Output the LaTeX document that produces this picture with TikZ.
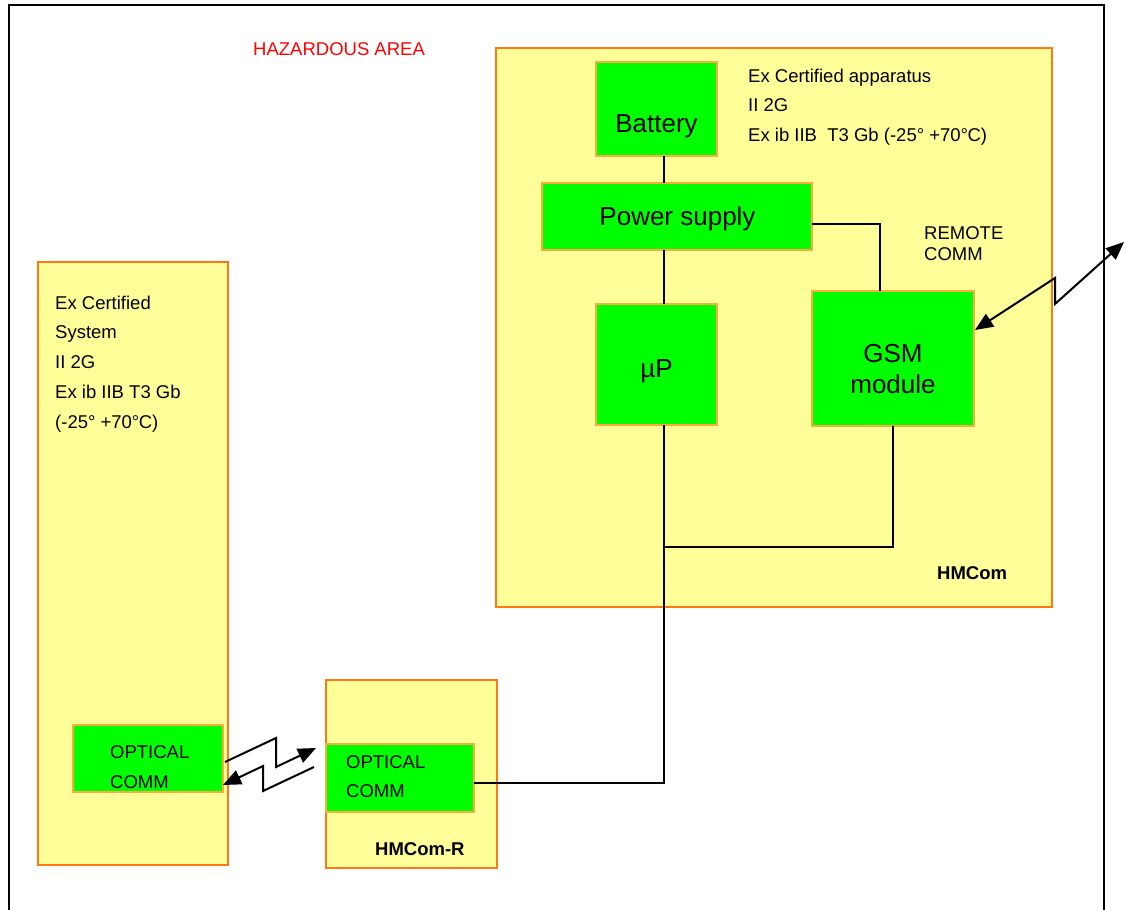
\documentclass[tikz,border=0pt]{standalone}
\usepackage{fontspec}
\setmainfont{Liberation Sans}
\usetikzlibrary{arrows.meta}
\definecolor{boxyellow}{RGB}{255,255,153}
\definecolor{boxorange}{RGB}{255,120,20}
\definecolor{boxgreen}{RGB}{0,255,0}
\definecolor{greenedge}{RGB}{255,170,60}
\definecolor{hazred}{RGB}{255,0,0}
\newcommand{\degC}{°\kern-0.03em C}
\begin{document}
\begin{tikzpicture}[x=1pt,y=-1pt,
  area/.style={draw=boxorange, fill=boxyellow, line width=1.2pt, rectangle, inner sep=0pt, outer sep=0pt, anchor=north west},
  block/.style={draw=greenedge, fill=boxgreen, line width=1.2pt, rectangle, inner sep=0pt, outer sep=0pt, anchor=north west},
  small/.style={font=\fontsize{18.5}{22}\selectfont, inner sep=0pt, anchor=base west},
  smallbold/.style={font=\fontsize{18.5}{22}\selectfont\bfseries, inner sep=0pt, anchor=base west},
  big/.style={font=\fontsize{26}{30}\selectfont, inner sep=0pt, anchor=base},
  wire/.style={line width=1.6pt, black},
  frame/.style={line width=2pt, black},
  zap/.style={line width=2pt, black, line join=miter, -{Triangle[length=18pt,width=15pt]}},
  zapboth/.style={line width=2pt, black, line join=miter, {Triangle[length=18pt,width=15pt]}-{Triangle[length=18pt,width=15pt]}},
 ]
\useasboundingbox (0,0) rectangle (1125,910);

% outer frame
\coordinate (fbl) at (9,915);
\coordinate (ftl) at (9,5);
\coordinate (ftr) at (1104,5);
\coordinate (fbr) at (1104,915);
\draw[frame] (fbl) -- (ftl) -- (ftr) -- (fbr);

\node[small, text=hazred] (haz) at (253,55.6) {HAZARDOUS AREA};

% HMCom
\node[area, minimum width=556pt, minimum height=559pt] (hmcom) at (496,48) {};
\node[block, minimum width=121pt, minimum height=94pt] (bat) at (596,62) {};
\node[big] (battxt) at (656.5,132) {Battery};
\node[small] (ex1) at (748,82.6) {Ex Certified apparatus};
\node[small] (ex2) at (748,111.6) {II 2G};
\node[small] (ex3) at (748,141.6) {Ex ib IIB\ \ T3 Gb (-25° +70\degC)};
\node[block, minimum width=270pt, minimum height=67pt] (psu) at (542,183) {};
\node[big] (psutxt) at (677.5,225) {Power supply};
\node[small] (rc1) at (924,239.6) {REMOTE};
\node[small] (rc2) at (924,260.6) {COMM};
\node[block, minimum width=121pt, minimum height=121pt] (up) at (596,304) {};
\node[big] (uptxt) at (656.5,377) {µP};
\node[block, minimum width=162pt, minimum height=135pt] (gsm) at (812,291) {};
\node[big] (gsmtxt1) at (893,362) {GSM};
\node[big] (gsmtxt2) at (893,393) {module};
\node[smallbold] (hmlbl) at (937,579) {HMCom};

% left system
\node[area, minimum width=190pt, minimum height=603pt] (sys) at (38,262) {};
\node[small] (s1) at (55,309.6) {Ex Certified};
\node[small] (s2) at (55,338.6) {System};
\node[small] (s3) at (55,368.6) {II 2G};
\node[small] (s4) at (55,398.6) {Ex ib IIB T3 Gb};
\node[small] (s5) at (55,428.6) {(-25° +70\degC)};
\node[block, minimum width=150pt, minimum height=67pt] (optL) at (73,725) {};
\node[small] (oL1) at (110,758.6) {OPTICAL};
\node[small] (oL2) at (110,788.6) {COMM};

% HMCom-R
\node[area, minimum width=171pt, minimum height=188pt] (hmr) at (326,680) {};
\node[block, minimum width=148pt, minimum height=68pt] (optR) at (326,744) {};
\node[small] (oR1) at (346,768.6) {OPTICAL};
\node[small] (oR2) at (346,797) {COMM};
\node[smallbold] (hmrlbl) at (375,855) {HMCom-R};

% wires
\coordinate (trunk) at (664,0);
\coordinate (j) at (664,547);
\draw[wire] (bat.south -| trunk) -- (psu.north -| trunk);
\draw[wire] (psu.south -| trunk) -- (up.north -| trunk);
\draw[wire] ([yshift=-7.5pt]psu.east) -| ([xshift=-13pt]gsm.north);
\draw[wire] (up.south -| trunk) -- (j) -| (gsm.south);
\draw[wire] (j) |- ([yshift=-5pt]optR.east);

% optical link zigzags
\coordinate (za1) at (276,738);
\coordinate (za2) at (276,767);
\coordinate (zaend) at (316,748);
\draw[zap] ([shift={(2pt,-3.5pt)}]optL.east) -- (za1) -- (za2) -- (zaend);
\coordinate (zbstart) at (314,767);
\coordinate (zb1) at (263,791);
\coordinate (zb2) at (263,766);
\draw[zap] (zbstart) -- (zb1) -- (zb2) -- ([yshift=-26.5pt]optL.east);

% remote comm zigzag
\coordinate (zc1) at (1055,278);
\coordinate (zc2) at (1055,304);
\coordinate (zcend) at (1124,242);
\draw[zapboth] ([shift={(1pt,28.5pt)}]gsm.east) -- (zc1) -- (zc2) -- (zcend);
\end{tikzpicture}
\end{document}
